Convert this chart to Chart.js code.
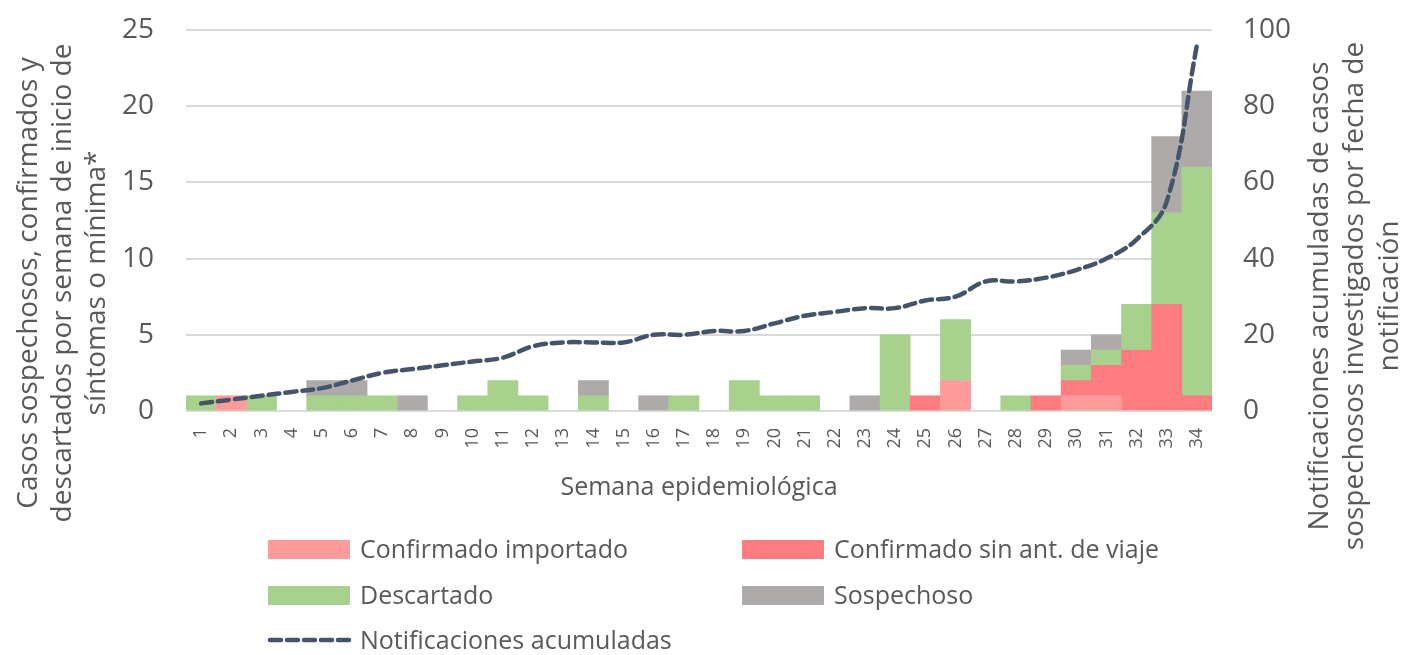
<!DOCTYPE html>
<html>
<head>
<meta charset="utf-8">
<script src="https://cdn.jsdelivr.net/npm/chart.js@4.4.1/dist/chart.umd.min.js"></script>
<style>
  html, body { margin:0; padding:0; background:#fff; }
  #wrap { position:relative; width:1404px; height:655px; font-family:'Open Sans', sans-serif; color:#595959; }
  #c { position:absolute; left:0; top:0; }
  .lg { position:absolute; font-size:25px; line-height:30px; white-space:nowrap; }
  .sw { position:absolute; width:82px; height:19px; }
</style>
</head>
<body>
<div id="wrap">
  <canvas id="c" width="1404" height="655"></canvas>
  <div id="legend"></div>
</div>
<script>
const weeks = ['1','2','3','4','5','6','7','8','9','10','11','12','13','14','15','16','17','18','19','20','21','22','23','24','25','26','27','28','29','30','31','32','33','34'];
const confImportado = [0,1,0,0,0,0,0,0,0,0,0,0,0,0,0,0,0,0,0,0,0,0,0,0,0,2,0,0,0,1,1,0,0,0];
const confSinViaje  = [0,0,0,0,0,0,0,0,0,0,0,0,0,0,0,0,0,0,0,0,0,0,0,0,1,0,0,0,1,1,2,4,7,1];
const descartado    = [1,0,1,0,1,1,1,0,0,1,2,1,0,1,0,0,1,0,2,1,1,0,0,5,0,4,0,1,0,1,1,3,6,15];
const sospechoso    = [0,0,0,0,1,1,0,1,0,0,0,0,0,1,0,1,0,0,0,0,0,0,1,0,0,0,0,0,0,1,1,0,5,5];
const acumuladas    = [2,3,4,5,6,8,10,11,12,13,14,17,18,18,18,20,20,21,21,23,25,26,27,27,29,30,34,34,35,37,40,45,55,96];
const leftTicks = [0,5,10,15,20,25];
const rightTicks = [0,20,40,60,80,100];

const seriesNames = ['Confirmado importado','Confirmado sin ant. de viaje','Descartado','Sospechoso','Notificaciones acumuladas'];
const colors = ['#FF9B9B','#FF7C80','#A9D18E','#AEAAAA','#44546A'];

const FONT = "'Open Sans', sans-serif";
const TXT = '#595959';

const titlesPlugin = {
  id: 'titles',
  afterDraw(chart) {
    const ctx = chart.ctx;
    ctx.save();
    ctx.fillStyle = TXT;
    ctx.textAlign = 'center';
    ctx.textBaseline = 'middle';
    ctx.font = '25px ' + FONT;
    ctx.fillText('Semana epidemiológica', 699, 488);
    ctx.font = '28px ' + FONT;
    const left = ['Casos sospechosos, confirmados y','descartados por semana de inicio de','síntomas o mínima*'];
    const lx = [29, 63, 97];
    left.forEach((t,i)=>{
      ctx.save(); ctx.translate(lx[i], 283); ctx.rotate(-Math.PI/2); ctx.fillText(t,0,0); ctx.restore();
    });
    const right = ['Notificaciones acumuladas de casos','sospechosos investigados por fecha de','notificación'];
    const rx = [1320, 1355, 1390];
    right.forEach((t,i)=>{
      ctx.save(); ctx.translate(rx[i], 296); ctx.rotate(-Math.PI/2); ctx.fillText(t,0,0); ctx.restore();
    });
    ctx.restore();
  }
};

const barDs = (i, data) => ({
  type:'bar', label: seriesNames[i], data: data.map(v => v === 0 ? null : v), backgroundColor: colors[i],
  borderWidth:0, stack:'casos', yAxisID:'y', order:1,
  barPercentage:1, categoryPercentage:1
});

new Chart(document.getElementById('c'), {
  data: {
    labels: weeks,
    datasets: [
      barDs(0, confImportado),
      barDs(1, confSinViaje),
      barDs(2, descartado),
      barDs(3, sospechoso),
      { type:'line', label: seriesNames[4], data: acumuladas, yAxisID:'y2', order:0,
        borderColor: colors[4], borderWidth:4.5, borderDash:[11,6], borderCapStyle:'round',
        pointRadius:0, tension:0.4, fill:false }
    ]
  },
  options: {
    responsive:false, animation:false,
    layout: { padding: { left:0, right:0, top:30, bottom:0 } },
    plugins: { legend:{display:false}, tooltip:{enabled:false} },
    scales: {
      x: {
        stacked:true, offset:true,
        grid:{ display:false, drawTicks:false },
        border:{ display:false },
        ticks:{ autoSkip:false, minRotation:90, maxRotation:90, padding:17, color:TXT, font:{family:FONT, size:18} },
        afterFit(s){ s.height = 655 - 411; s.paddingLeft = 0; s.paddingRight = 0; }
      },
      y: {
        stacked:true, position:'left', min:0, max:25,
        afterBuildTicks(s){ s.ticks = leftTicks.map(v=>({value:v})); },
        grid:{ color:'#D9D9D9', lineWidth:2, drawTicks:false },
        border:{ display:false },
        ticks:{ padding:32, color:TXT, font:{family:FONT, size:28} },
        afterFit(s){ s.width = 186; s.paddingTop = 0; s.paddingBottom = 0; }
      },
      y2: {
        position:'right', min:0, max:100,
        afterBuildTicks(s){ s.ticks = rightTicks.map(v=>({value:v})); },
        grid:{ display:false, drawTicks:false },
        border:{ display:false },
        ticks:{ padding:31, color:TXT, font:{family:FONT, size:28} },
        afterFit(s){ s.width = 1404 - 1212; s.paddingTop = 0; s.paddingBottom = 0; }
      }
    }
  },
  plugins:[titlesPlugin]
});

// HTML legend
const legendItems = [
  {i:0, x:268, y:549},
  {i:1, x:742, y:549},
  {i:2, x:268, y:595},
  {i:3, x:742, y:595},
  {i:4, x:268, y:640, line:true}
];
const lg = document.getElementById('legend');
legendItems.forEach(it=>{
  if (it.line) {
    const svg = document.createElementNS('http://www.w3.org/2000/svg','svg');
    svg.setAttribute('width','90'); svg.setAttribute('height','10');
    svg.style.position='absolute'; svg.style.left=(it.x-2)+'px'; svg.style.top=(it.y-5)+'px';
    const l = document.createElementNS('http://www.w3.org/2000/svg','line');
    l.setAttribute('x1','4'); l.setAttribute('x2','86'); l.setAttribute('y1','5'); l.setAttribute('y2','5');
    l.setAttribute('stroke',colors[it.i]); l.setAttribute('stroke-width','4.5');
    l.setAttribute('stroke-dasharray','11 6'); l.setAttribute('stroke-linecap','round');
    svg.appendChild(l); lg.appendChild(svg);
  } else {
    const s = document.createElement('div'); s.className='sw';
    s.style.left=it.x+'px'; s.style.top=(it.y-9.5)+'px'; s.style.background=colors[it.i];
    lg.appendChild(s);
  }
  const t = document.createElement('div'); t.className='lg';
  t.textContent = seriesNames[it.i];
  t.style.left=(it.x+92)+'px'; t.style.top=(it.y-16)+'px';
  lg.appendChild(t);
});
</script>
</body>
</html>
